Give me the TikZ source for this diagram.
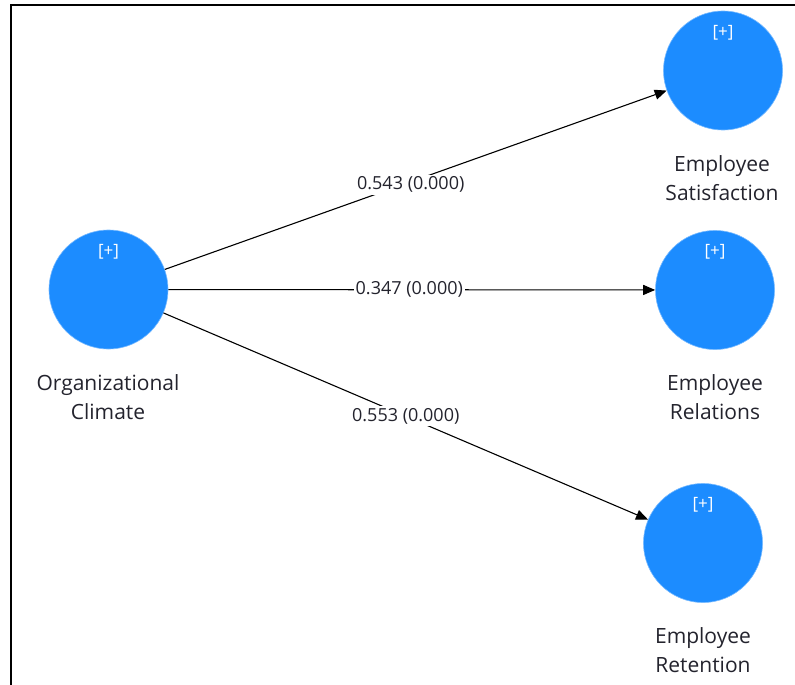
\documentclass[tikz,border=0pt]{standalone}
\usepackage{fontspec}
\setmainfont{Open Sans}
\usetikzlibrary{arrows.meta}
\definecolor{lvblue}{RGB}{28,140,255}
\definecolor{txt}{RGB}{35,35,45}
\begin{document}
\begin{tikzpicture}[x=1pt,y=-1pt,
  lv/.style={circle,fill=lvblue,draw=lvblue!60!white,line width=0.6pt,minimum size=119pt,inner sep=0pt},
  plus/.style={text=white,font=\fontsize{17}{19}\selectfont},
  lvlabel/.style={align=center,text=txt,font=\fontsize{21}{29}\selectfont},
  path/.style={draw=black,line width=1.1pt,-{Triangle[length=12pt,width=10pt]}},
  coef/.style={fill=white,text=txt,font=\fontsize{18}{20}\selectfont,inner sep=2pt}]
\useasboundingbox (0,0) rectangle (795,685);
\draw[line width=2.5pt] (11,685) -- (11,5) -- (795,5);

\node[lv] (oc) at (108.5,289.5) {};
\node[lv] (es) at (723,70.5) {};
\node[lv] (erel) at (715,290) {};
\node[lv] (eret) at (703,543) {};

\foreach \n in {oc,es,erel,eret}{\node[plus] (p\n) at ([yshift=38pt]\n.center) {[+]};}

\node[lvlabel] (loc) at (108,397) {Organizational\\Climate};
\node[lvlabel] (les) at (722,178.5) {Employee\\Satisfaction};
\node[lvlabel] (lrel) at (715,397) {Employee\\Relations};
\node[lvlabel] (lret) at (703,650.5) {Employee\\Retention};

\path[path] (oc) -- node[coef,pos=0.49,yshift=-3pt] {0.543 (0.000)} (es);
\path[path] (oc) -- node[coef,pos=0.495] {0.347 (0.000)} (erel);
\path[path] (oc) -- node[coef,pos=0.5] {0.553 (0.000)} (eret);
\end{tikzpicture}
\end{document}
